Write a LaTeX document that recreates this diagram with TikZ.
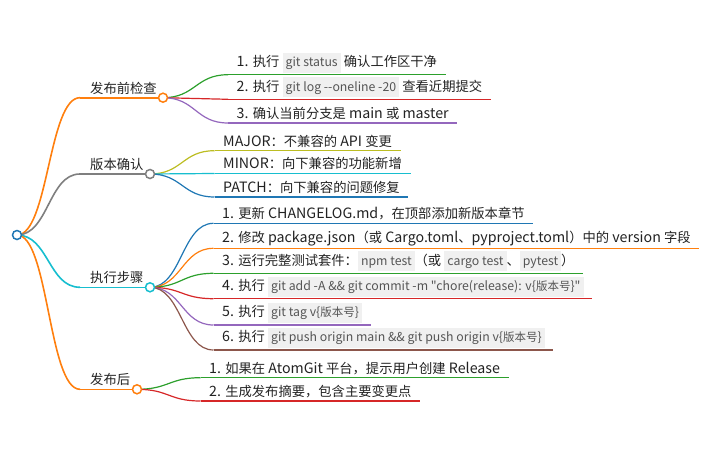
\documentclass[tikz,border=0pt]{standalone}
\usepackage{fontspec}
\setmainfont{Noto Sans CJK SC}[Scale=1.07]
\newfontfamily\zhfont{Noto Sans CJK SC}
\newfontfamily\codefont{Noto Sans CJK SC}[Scale=1.07, Ligatures=TeXOff]
\usetikzlibrary{calc}
\definecolor{mblue}{HTML}{1F77B4}
\definecolor{morange}{HTML}{FF7F0E}
\definecolor{mgreen}{HTML}{2CA02C}
\definecolor{mred}{HTML}{D62728}
\definecolor{mpurple}{HTML}{9467BD}
\definecolor{mbrown}{HTML}{8C564B}
\definecolor{mgray}{HTML}{7F7F7F}
\definecolor{molive}{HTML}{BCBD22}
\definecolor{mcyan}{HTML}{17BECF}
\definecolor{codebg}{HTML}{F0F0F0}
\definecolor{codefg}{HTML}{555555}
\definecolor{textc}{HTML}{222222}
\newcommand\zhtxt[1]{{\zhfont #1}}
\newcommand\mmcode[1]{{\setlength\fboxsep{3pt}\colorbox{codebg}{\codefont\fontsize{11.5}{14}\selectfont\color{codefg}\rule[-3.3pt]{0pt}{14pt}#1}}}
\newcommand\mmstrut{\rule[-2.8pt]{0pt}{10pt}}
\newcommand\mmlink[4][1.2pt]{\draw[#4, line width=#1] let \p1=(#2.center), \p2=(#3) in (\p1) .. controls ({(\x1+\x2)/2},\y1) and ({(\x1+\x2)/2},\y2) .. (\p2);}
\pgfdeclarelayer{bg}
\pgfsetlayers{bg,main}
\begin{document}
\begin{tikzpicture}[x=1pt,y=-1pt,
  hub/.style={circle, draw=#1, fill=white, line width=1.5pt, minimum size=9pt, inner sep=0pt},
  lone/.style={anchor=south west, inner xsep=10pt, inner ysep=1.7pt, font=\fontsize{13.3}{16}\selectfont, text=textc},
  ltwo/.style={anchor=south west, inner xsep=8.5pt, inner ysep=1.7pt, font=\fontsize{13.3}{16}\selectfont, text=textc},
  uline/.style={line width=1.2pt}]
\useasboundingbox (0,0) rectangle (717,460);
% root
\node[hub=mblue] (R) at (17,235) {};
% level 1
\node[lone] (A) at (80,97.7) {\mmstrut\zhtxt{发布前检查}};
\node[hub=morange] (Ac) at (163,97.7) {};
\node[lone] (B) at (80,174) {\mmstrut\zhtxt{版本确认}};
\node[hub=mgray] (Bc) at (150,174) {};
\node[lone] (C) at (80,287.3) {\mmstrut\zhtxt{执行步骤}};
\node[hub=mcyan] (Cc) at (150,287.3) {};
\node[lone] (D) at (80,389.3) {\mmstrut\zhtxt{发布后}};
\node[hub=morange] (Dc) at (137,389.3) {};
% level 2
\node[ltwo] (A1) at (228,74.7) {\mmstrut 1. \zhtxt{执行} \mmcode{git status} \zhtxt{确认工作区干净}};
\node[ltwo] (A2) at (228,99.3) {\mmstrut 2. \zhtxt{执行} \mmcode{git log --oneline -20} \zhtxt{查看近期提交}};
\node[ltwo] (A3) at (228,123) {\mmstrut 3. \zhtxt{确认当前分支是} main \zhtxt{或} master};
\node[ltwo] (B1) at (214.5,150.7) {\mmstrut MAJOR\zhtxt{：不兼容的} API \zhtxt{变更}};
\node[ltwo] (B2) at (214.5,173.5) {\mmstrut MINOR\zhtxt{：向下兼容的功能新增}};
\node[ltwo] (B3) at (214.5,197) {\mmstrut PATCH\zhtxt{：向下兼容的问题修复}};
\node[ltwo] (C1) at (213.5,223.3) {\mmstrut 1. \zhtxt{更新} CHANGELOG.md\zhtxt{，在顶部添加新版本章节}};
\node[ltwo] (C2) at (213.5,248.3) {\mmstrut 2. \zhtxt{修改} package.json\zhtxt{（或} Cargo.toml\zhtxt{、}pyproject.toml\zhtxt{）中的} version \zhtxt{字段}};
\node[ltwo] (C3) at (213.5,273.3) {\mmstrut 3. \zhtxt{运行完整测试套件：}\mmcode{npm test}\zhtxt{（或} \mmcode{cargo test}\zhtxt{、}\mmcode{pytest}\zhtxt{）}};
\node[ltwo] (C4) at (213.5,298.7) {\mmstrut 4. \zhtxt{执行} \mmcode{git add -A \&\& git commit -m "chore(release): v\{\zhtxt{版本号}\}"}};
\node[ltwo] (C5) at (213.5,325) {\mmstrut 5. \zhtxt{执行} \mmcode{git tag v\{\zhtxt{版本号}\}}};
\node[ltwo] (C6) at (213.5,350) {\mmstrut 6. \zhtxt{执行} \mmcode{git push origin main \&\& git push origin v\{\zhtxt{版本号}\}}};
\node[ltwo] (D1) at (200.5,377.7) {\mmstrut 1. \zhtxt{如果在} AtomGit \zhtxt{平台，提示用户创建} Release};
\node[ltwo] (D2) at (200.5,401) {\mmstrut 2. \zhtxt{生成发布摘要，包含主要变更点}};
\begin{pgfonlayer}{bg}
% root links
\mmlink[1.6pt]{R}{A.south west}{morange}
\mmlink[1.6pt]{R}{B.south west}{mgray}
\mmlink[1.6pt]{R}{C.south west}{mcyan}
\mmlink[1.6pt]{R}{D.south west}{morange}
\draw[morange, line width=1.6pt] (A.south west) -- (Ac.center);
\draw[mgray, line width=1.6pt] (B.south west) -- (Bc.center);
\draw[mcyan, line width=1.6pt] (C.south west) -- (Cc.center);
\draw[morange, line width=1.6pt] (D.south west) -- (Dc.center);
% level-2 links
\mmlink{Ac}{A1.south west}{mgreen}
\mmlink{Ac}{A2.south west}{mred}
\mmlink{Ac}{A3.south west}{mpurple}
\mmlink{Bc}{B1.south west}{molive}
\mmlink{Bc}{B2.south west}{mcyan}
\mmlink{Bc}{B3.south west}{mblue}
\mmlink{Cc}{C1.south west}{mblue}
\mmlink{Cc}{C2.south west}{morange}
\mmlink{Cc}{C3.south west}{mgreen}
\mmlink{Cc}{C4.south west}{mred}
\mmlink{Cc}{C5.south west}{mpurple}
\mmlink{Cc}{C6.south west}{mbrown}
\mmlink{Dc}{D1.south west}{mgreen}
\mmlink{Dc}{D2.south west}{mred}
% underlines
\draw[uline, mgreen] (A1.south west) -- (A1.south east);
\draw[uline, mred] (A2.south west) -- (A2.south east);
\draw[uline, mpurple] (A3.south west) -- (A3.south east);
\draw[uline, molive] (B1.south west) -- (B1.south east);
\draw[uline, mcyan] (B2.south west) -- (B2.south east);
\draw[uline, mblue] (B3.south west) -- (B3.south east);
\draw[uline, mblue] (C1.south west) -- (C1.south east);
\draw[uline, morange] (C2.south west) -- (C2.south east);
\draw[uline, mgreen] (C3.south west) -- (C3.south east);
\draw[uline, mred] (C4.south west) -- (C4.south east);
\draw[uline, mpurple] (C5.south west) -- (C5.south east);
\draw[uline, mbrown] (C6.south west) -- (C6.south east);
\draw[uline, mgreen] (D1.south west) -- (D1.south east);
\draw[uline, mred] (D2.south west) -- (D2.south east);
\end{pgfonlayer}
\end{tikzpicture}
\end{document}
